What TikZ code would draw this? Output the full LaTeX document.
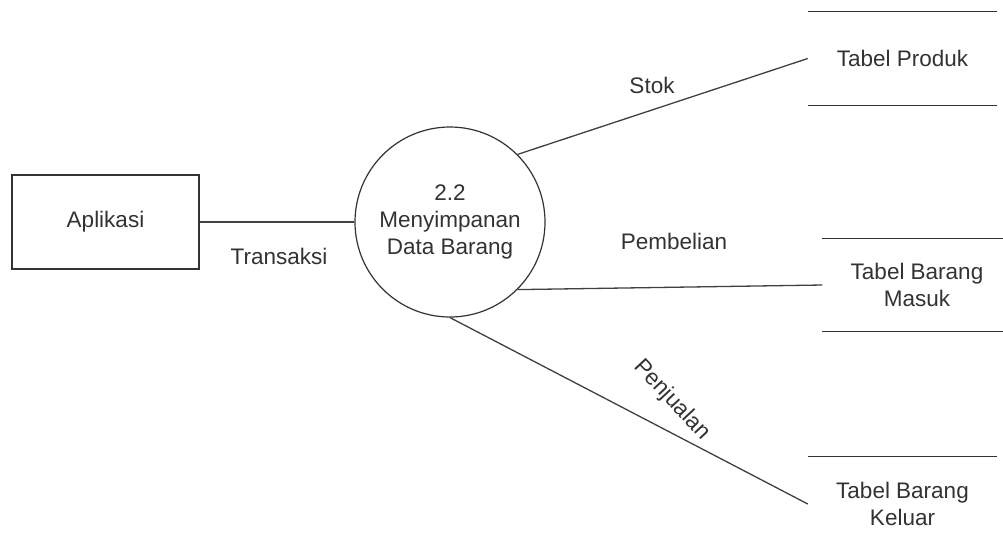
\documentclass[tikz,border=0pt]{standalone}
\usepackage{fontspec}
\setmainfont{Liberation Sans}
\definecolor{ink}{HTML}{333333}
\definecolor{edge}{HTML}{404040}
\begin{document}
\begin{tikzpicture}[x=1pt,y=-1pt,
  lbl/.style={text=ink,font=\fontsize{22.5}{27}\selectfont,align=center,inner sep=0},
  entity/.style={lbl,draw=ink,line width=1.3pt,minimum width=187pt,minimum height=94pt},
  proc/.style={lbl,draw=ink,line width=1.2pt,circle,minimum size=190pt},
  store/.style={lbl,minimum width=189pt,minimum height=93pt},
  storeline/.style={draw=ink,line width=1.3pt},
  flow/.style={draw=edge,line width=1.3pt}]
\useasboundingbox (0,0) rectangle (1003,547);
\fill[white] (0,0) rectangle (1003,547);
\node[entity] (app) at (105.5,222) {Aplikasi};
\node[proc] (p) at (450,222) {2.2\\Menyimpanan\\Data Barang};
\node[store] (produk) at (902.5,58.5) {Tabel Produk};
\node[store] (masuk) at (917,285) {Tabel Barang\\Masuk};
\node[store,minimum height=94pt] (keluar) at (902.5,504) {Tabel Barang\\Keluar};
\draw[storeline] (produk.north west) -- (produk.north east);
\draw[storeline] (produk.south west) -- (produk.south east);
\draw[storeline] (masuk.north west) -- (masuk.north east);
\draw[storeline] (masuk.south west) -- (masuk.south east);
\draw[storeline] (keluar.north west) -- (keluar.north east);
\draw[flow] (app.east) -- (p.west);
\draw[flow] (p.45) -- (produk.west);
\draw[flow] (p.-45) -- (masuk.west);
\draw[flow] (p.south) -- (keluar.west);
\node[lbl] (lt) at (279,256) {Transaksi};
\node[lbl] (ls) at (652,85) {Stok};
\node[lbl] (lb) at (674,241) {Pembelian};
\node[lbl,rotate=-47] (lj) at (672,400) {Penjualan};
\end{tikzpicture}
\end{document}
